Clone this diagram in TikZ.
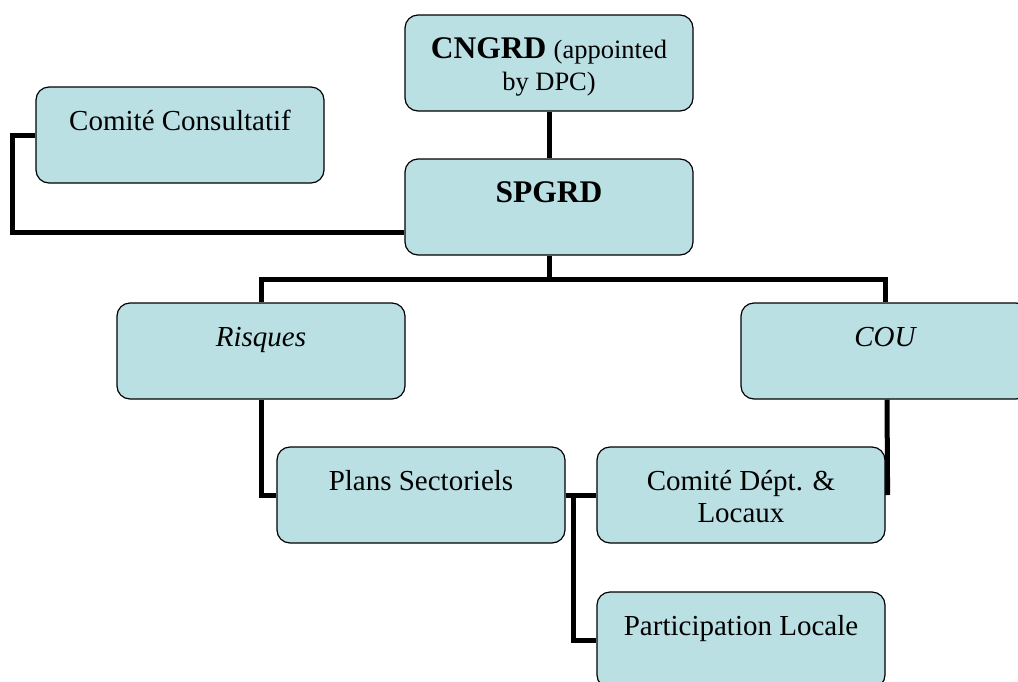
\documentclass[tikz,border=0pt]{standalone}
\usepackage{fontspec}
\setmainfont{Liberation Serif}
\usetikzlibrary{backgrounds}
\definecolor{boxfill}{RGB}{186,224,228}
\tikzset{
  box/.style={draw=black, line width=1.2pt, fill=boxfill, rounded corners=13pt,
    inner sep=0pt, minimum width=288pt, minimum height=96pt},
  conn/.style={line width=5pt, draw=black}
}
\newcommand{\boxtext}[1]{\parbox[c][96pt][t]{288pt}{\centering\fontsize{29}{32}\selectfont\rule{0pt}{43pt}#1}}
\begin{document}
\begin{tikzpicture}[x=1pt,y=-1pt]
\useasboundingbox (0,0) rectangle (1018,681);
\node[box] (cngrd) at (549,63) {\boxtext{{\fontsize{31.5}{32}\selectfont\bfseries CNGRD} {\fontsize{26.5}{32}\selectfont(appointed\\by DPC)}}};
\node[box] (cc) at (180,135) {\boxtext{Comité Consultatif}};
\node[box] (spgrd) at (549,207) {\boxtext{{\fontsize{31.5}{32}\selectfont\bfseries SPGRD}}};
\node[box] (risques) at (261,351) {\boxtext{\itshape Risques}};
\node[box] (cou) at (885,351) {\boxtext{\itshape COU}};
\node[box] (plans) at (421,495) {\boxtext{Plans Sectoriels}};
\node[box] (cdl) at (741,495) {\boxtext{Comité Dépt. \&\\Locaux}};
\node[box] (pl) at (741,640) {\boxtext{Participation Locale}};
\begin{scope}[on background layer]
\draw[conn] (cngrd.south) -- (spgrd.north);
\draw[conn] (cc.west) -- ++(-23,0) |- ([yshift=-25pt]spgrd.west);
\draw[conn] (spgrd.south) -- ++(0,24) -| (risques.north);
\draw[conn] (spgrd.south) -- ++(0,24) -| (cou.north);
\draw[conn] (risques.south) |- (plans.west);
\draw[conn] (plans.east) -- (cdl.west);
\draw[conn] ([xshift=8pt]plans.east) |- (pl.west);
\draw[conn] ([xshift=2pt]cou.south) -- ([xshift=2pt]cdl.east);
\end{scope}
\end{tikzpicture}
\end{document}
